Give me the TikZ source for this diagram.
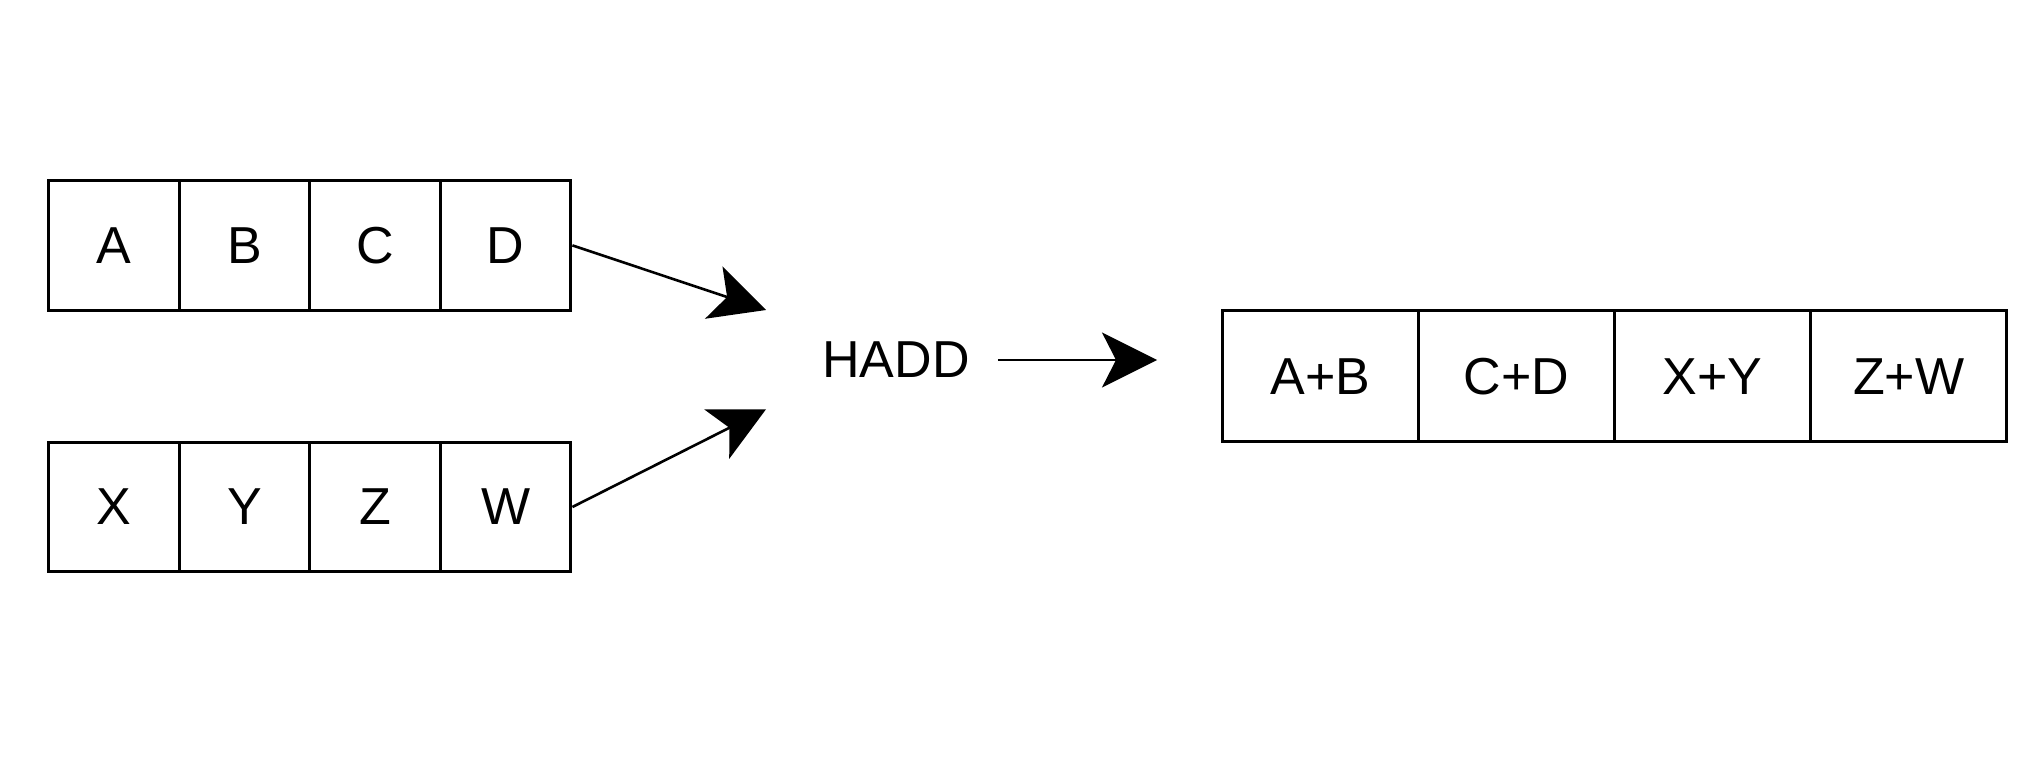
\documentclass[tikz,border=0pt]{standalone}
\usepackage{fontspec}
\setmainfont{Liberation Sans}
\usetikzlibrary{arrows.meta}
\begin{document}
\begin{tikzpicture}[x=1pt,y=-1pt,
  cell/.style={draw, line width=3pt, minimum width=130.6pt, minimum height=129.5pt, inner sep=0pt, font=\fontsize{52}{60}\selectfont},
  wcell/.style={cell, minimum width=196pt, minimum height=131pt},
  lbl/.style={inner sep=0pt, font=\fontsize{52}{60}\selectfont},
  arr/.style={line width=2.6pt, -{Stealth[length=55pt, width=55pt, inset=14pt]}}]
\useasboundingbox (0,0) rectangle (2036,767);
% top row
\node[cell] (a) at (113.8,245.4) {A};
\node[cell] (b) at (244.4,245.4) {B};
\node[cell] (c) at (375.0,245.4) {C};
\node[cell] (d) at (505.6,245.4) {D};
% bottom row
\node[cell] (x) at (113.8,507.0) {X};
\node[cell] (y) at (244.4,507.0) {Y};
\node[cell] (z) at (375.0,507.0) {Z};
\node[cell] (w) at (505.6,507.0) {W};
% result row
\node[wcell] (ab) at (1320.7,376.2) {A+B};
\node[wcell] (cd) at (1516.7,376.2) {C+D};
\node[wcell] (xy) at (1712.7,376.2) {X+Y};
\node[wcell] (zw) at (1908.7,376.2) {Z+W};
% label
\node[lbl] (hadd) at (896,360) {HADD};
\coordinate (t1) at (766,310);
\coordinate (t2) at (766,409.3);
\coordinate (t3) at (1157,360);
\draw[arr] (d.east) -- (t1);
\draw[arr] (w.east) -- (t2);
\draw[arr, shorten <=28pt] (hadd.east) -- (t3);
\end{tikzpicture}
\end{document}
